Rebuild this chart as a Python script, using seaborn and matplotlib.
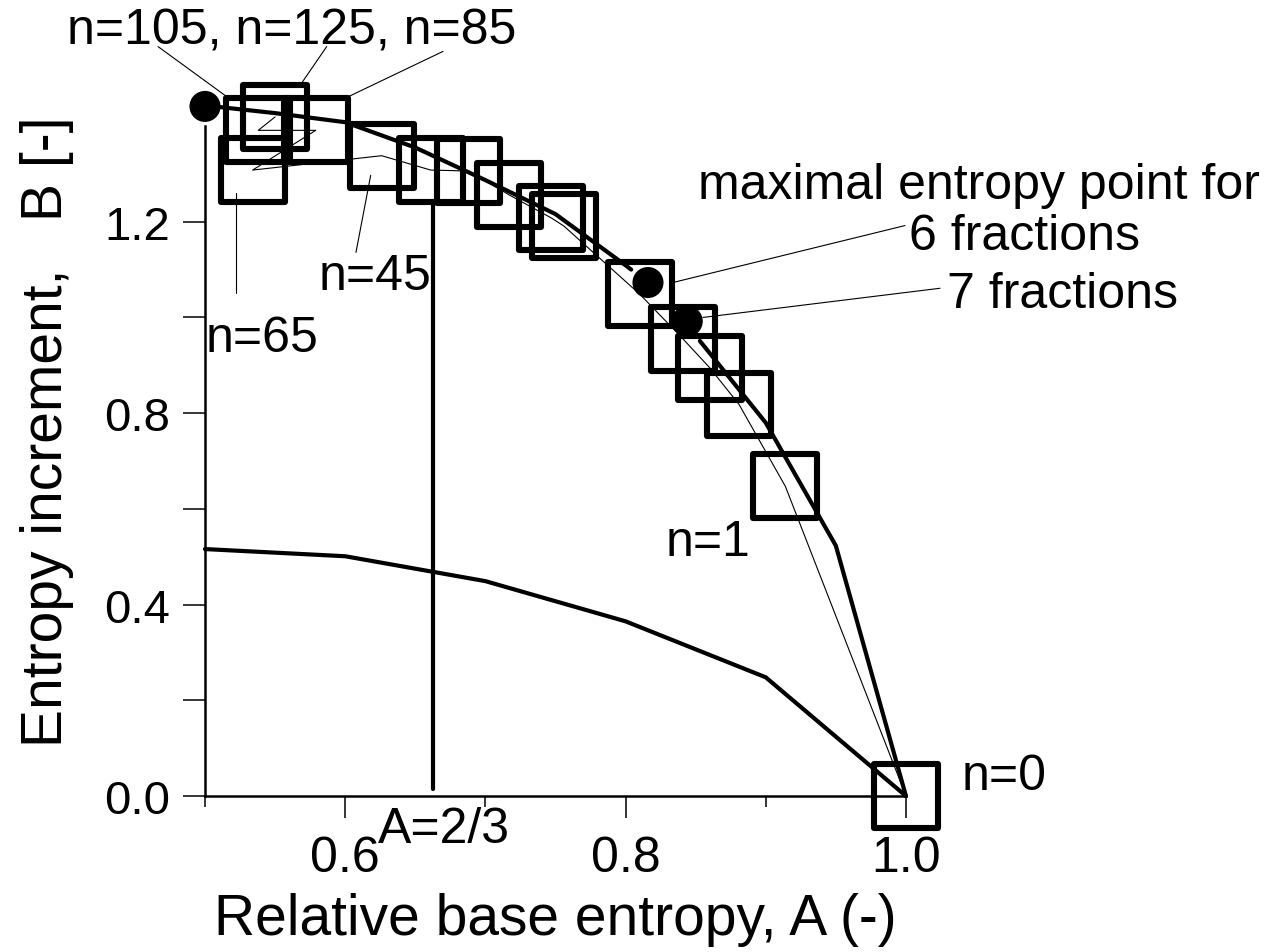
import numpy as np
import pandas as pd
import seaborn as sns
import matplotlib.pyplot as plt

# squares, n = 125, 105, 85, 65, 45, ... , 1, 0 (thin line joins them in this order)
sq_A = [0.550, 0.538, 0.579, 0.534, 0.626, 0.661, 0.688, 0.717, 0.747, 0.756,
        0.810, 0.841, 0.860, 0.881, 0.914, 1.000]
sq_B = [1.419, 1.391, 1.391, 1.308, 1.338, 1.308, 1.306, 1.256, 1.208, 1.191,
        1.049, 0.955, 0.895, 0.818, 0.647, 0.000]

# upper thick curve (broken around the maximal entropy points)
up_A = [0.500, 0.550, 0.600, 0.650, 0.700, 0.750, 0.800, 0.804,
        0.853, 0.900, 0.950, 1.000]
up_B = [1.443, 1.427, 1.408, 1.355, 1.287, 1.216, 1.109, 1.100,
        0.951, 0.780, 0.523, 0.000]
up_seg = [0, 0, 0, 0, 0, 0, 0, 0, 1, 1, 1, 1]

# lower curve
low_A = [0.5, 0.6, 0.7, 0.8, 0.9, 1.0]
low_B = [0.516, 0.501, 0.449, 0.365, 0.248, 0.000]

# maximal entropy points
dot_A = [0.500, 0.816, 0.844]
dot_B = [1.441, 1.073, 0.992]

# A = 2/3 line
vline_A = [0.663, 0.663]
vline_B = [0.015, 1.234]

# leader lines: (A0, B0, A1, B1)
leaders = [
    (0.4665, 1.566, 0.5157, 1.461),   # n=105
    (0.5868, 1.566, 0.5690, 1.490),   # n=125
    (0.6698, 1.556, 0.6020, 1.461),   # n=85
    (0.5221, 1.052, 0.5221, 1.261),   # n=65
    (0.6077, 1.136, 0.6182, 1.297),   # n=45
    (0.8338, 1.073, 0.9993, 1.192),   # 6 fractions
    (0.8552, 1.000, 1.0243, 1.061),   # 7 fractions
]

labels = [
    ("n=105, n=125, n=85", 0.5617, 1.573),
    ("n=45", 0.6213, 1.0585),
    ("n=65", 0.541, 0.929),
    ("n=1", 0.8588, 0.503),
    ("n=0", 1.0699, 0.0146),
    ("A=2/3", 0.6705, -0.096),
    ("maximal entropy point for", 1.052, 1.2505),
    ("6 fractions", 1.0849, 1.142),
    ("7 fractions", 1.112, 1.021),
]

sns.set_style("ticks")
plt.rcParams['font.family'] = ['Liberation Sans', 'DejaVu Sans']
plt.rcParams['text.color'] = 'black'
plt.rcParams['axes.labelcolor'] = 'black'
plt.rcParams['xtick.color'] = 'black'
plt.rcParams['ytick.color'] = 'black'

fig = plt.figure(figsize=(12.74, 9.53), dpi=100)
ax = fig.add_axes([0.1609, 0.1637, 0.5502, 0.7030])

sns.scatterplot(x=sq_A, y=sq_B, marker='s', s=46 ** 2, facecolor='none',
                edgecolor='black', linewidth=4.4, clip_on=False, zorder=2, ax=ax)
sns.lineplot(x=sq_A, y=sq_B, sort=False, estimator=None, color='black',
             linewidth=0.8, clip_on=False, zorder=3, ax=ax)

up = pd.DataFrame({"A": up_A, "B": up_B, "seg": up_seg})
sns.lineplot(data=up, x="A", y="B", units="seg", estimator=None, sort=False,
             color='black', linewidth=3.0, clip_on=False, zorder=4, ax=ax)
sns.lineplot(x=low_A, y=low_B, sort=False, estimator=None, color='black',
             linewidth=3.0, clip_on=False, zorder=4, ax=ax)
sns.lineplot(x=vline_A, y=vline_B, sort=False, estimator=None, color='black',
             linewidth=3.0, zorder=4, ax=ax)

sns.scatterplot(x=dot_A, y=dot_B, s=500, color='black', edgecolor='none',
                clip_on=False, zorder=5, ax=ax)

for a0, b0, a1, b1 in leaders:
    ax.plot([a0, a1], [b0, b1], color='black', linewidth=0.8, clip_on=False, zorder=5)

for txt, a, b in labels:
    ax.text(a, b, txt, fontsize=36, ha='center', va='baseline', clip_on=False)

ax.set_xlim(0.5, 1.0)
ax.set_ylim(0.0, 1.4)
ax.set_xticks([0.6, 0.8, 1.0])
ax.set_xticklabels(["0.6", "0.8", "1.0"])
ax.set_xticks([0.5, 0.7, 0.9], minor=True)
ax.set_yticks([0.0, 0.4, 0.8, 1.2])
ax.set_yticklabels(["0.0", "0.4", "0.8", "1.2"])
ax.set_yticks([0.2, 0.6, 1.0], minor=True)

ax.tick_params(axis='both', which='both', direction='out', width=1.1, color='black')
ax.tick_params(axis='x', which='major', length=16, pad=12, labelsize=36)
ax.tick_params(axis='x', which='minor', length=8)
ax.tick_params(axis='y', which='both', length=16, pad=9, labelsize=34)

for side in ['top', 'right']:
    ax.spines[side].set_visible(False)
for side in ['left', 'bottom']:
    ax.spines[side].set_linewidth(1.8)
    ax.spines[side].set_color('black')

ax.set_xlabel("Relative base entropy, A (-)", fontsize=41)
ax.set_ylabel("Entropy increment,   B [-]", fontsize=41)
ax.xaxis.set_label_coords(0.5, -0.143)
ax.yaxis.set_label_coords(-0.187, 0.545)

fig.savefig("out.png", dpi=100)
